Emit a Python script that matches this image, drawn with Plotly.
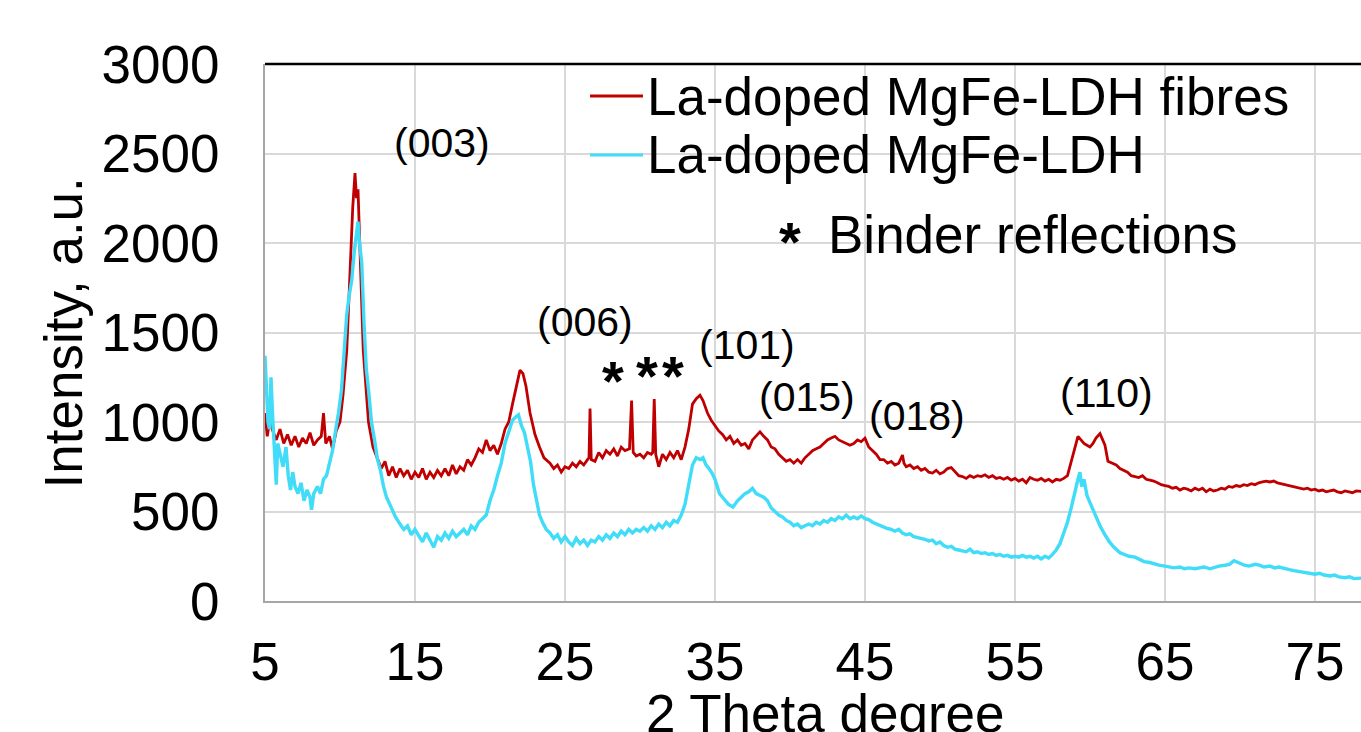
import plotly.graph_objects as go

# ---------------- data ----------------
fibres_theta = [5.0, 5.15, 5.3, 5.5, 5.75, 6.0, 6.25, 6.5, 6.75, 7.0, 7.25, 7.5, 7.75, 8.0, 8.25, 8.5, 8.75, 8.9, 9.05, 9.3,
                9.5, 9.75, 10.0, 10.2, 10.45, 10.7, 10.85, 11.0, 11.1, 11.2, 11.33, 11.55, 11.7, 11.9, 12.2, 12.5, 12.75, 13.0, 13.25, 13.5,
                13.75, 14.0, 14.25, 14.5, 14.75, 15.0, 15.25, 15.5, 15.75, 16.0, 16.25, 16.5, 16.75, 17.0, 17.25, 17.5, 17.75, 18.0, 18.25, 18.5,
                18.75, 19.0, 19.25, 19.5, 19.75, 20.0, 20.25, 20.5, 20.75, 21.0, 21.25, 21.5, 21.75, 22.0, 22.2, 22.4, 22.67, 23.0, 23.3, 23.6,
                24.0, 24.25, 24.5, 24.75, 25.0, 25.25, 25.5, 25.75, 26.0, 26.25, 26.5, 26.6, 26.67, 26.75, 27.0, 27.25, 27.5, 27.75, 28.0, 28.25,
                28.5, 28.75, 29.0, 29.3, 29.44, 29.55, 29.75, 30.0, 30.25, 30.5, 30.75, 30.85, 30.95, 31.05, 31.25, 31.5, 31.75, 32.0, 32.25, 32.5,
                32.75, 33.0, 33.25, 33.5, 33.75, 34.0, 34.2, 34.5, 34.75, 35.0, 35.25, 35.5, 35.75, 36.0, 36.25, 36.5, 36.75, 37.0, 37.25, 37.5,
                37.75, 38.0, 38.25, 38.5, 38.75, 39.0, 39.25, 39.5, 39.75, 40.0, 40.25, 40.5, 40.75, 41.0, 41.25, 41.5, 41.75, 42.0, 42.25, 42.5,
                42.75, 43.0, 43.25, 43.5, 43.75, 44.0, 44.25, 44.5, 44.75, 45.0, 45.25, 45.5, 45.75, 46.0, 46.25, 46.5, 46.75, 47.0, 47.25, 47.5,
                47.6, 47.75, 48.0, 48.25, 48.5, 48.75, 49.0, 49.25, 49.5, 49.75, 50.0, 50.25, 50.5, 50.75, 51.0, 51.25, 51.5, 51.75, 52.0, 52.25,
                52.5, 52.75, 53.0, 53.25, 53.5, 53.75, 54.0, 54.25, 54.5, 54.75, 55.0, 55.25, 55.5, 55.75, 56.0, 56.25, 56.5, 56.75, 57.0, 57.25,
                57.5, 57.75, 58.0, 58.25, 58.5, 58.75, 59.0, 59.2, 59.4, 59.6, 59.8, 60.0, 60.2, 60.4, 60.67, 60.85, 61.0, 61.2, 61.5, 61.75,
                62.0, 62.25, 62.5, 62.75, 63.0, 63.25, 63.5, 63.75, 64.0, 64.25, 64.5, 64.75, 65.0, 65.25, 65.5, 65.75, 66.0, 66.25, 66.5, 66.75,
                67.0, 67.25, 67.5, 67.75, 68.0, 68.25, 68.5, 68.75, 69.0, 69.25, 69.5, 69.75, 70.0, 70.25, 70.5, 70.75, 71.0, 71.25, 71.5, 71.75,
                72.0, 72.25, 72.5, 72.75, 73.0, 73.25, 73.5, 73.75, 74.0, 74.25, 74.5, 74.75, 75.0, 75.25, 75.5, 75.75, 76.0, 76.25, 76.5, 76.75,
                77.0, 77.25, 77.5, 77.75, 78.0, 78.1]
fibres_int = [1050, 920, 1000, 950, 900, 960, 880, 930, 870, 920, 860, 910, 880, 940, 870, 900, 920, 1050, 880, 920,
              850, 950, 1000, 1150, 1400, 1900, 2200, 2390, 2250, 2300, 2000, 1400, 1230, 1000, 860, 790, 740, 780, 700, 750,
              690, 740, 700, 730, 680, 720, 690, 740, 680, 720, 690, 730, 700, 740, 700, 760, 710, 750, 730, 790,
              760, 800, 850, 830, 900, 840, 870, 820, 880, 960, 1000, 1100, 1200, 1290, 1270, 1200, 1050, 930, 860, 800,
              770, 740, 760, 720, 750, 740, 770, 750, 780, 760, 790, 800, 1075, 790, 780, 830, 800, 840, 820, 850,
              810, 860, 840, 850, 1120, 830, 810, 820, 800, 830, 820, 830, 1128, 820, 750, 820, 790, 830, 800, 840,
              790, 860, 960, 1100, 1130, 1150, 1120, 1050, 1010, 980, 950, 930, 900, 920, 880, 900, 870, 880, 850, 900,
              920, 945, 920, 900, 860, 850, 820, 800, 780, 790, 770, 790, 770, 800, 820, 840, 850, 860, 880, 900,
              910, 920, 900, 890, 880, 870, 880, 900, 890, 910, 860, 840, 820, 790, 790, 770, 780, 760, 770, 815,
              770, 750, 760, 740, 750, 730, 740, 720, 715, 730, 710, 720, 740, 745, 720, 700, 695, 685, 700, 690,
              700, 695, 705, 690, 700, 685, 690, 680, 690, 675, 685, 670, 680, 660, 690, 680, 675, 685, 670, 680,
              665, 680, 675, 685, 700, 780, 860, 920, 900, 880, 870, 860, 880, 910, 935, 900, 870, 780, 770, 760,
              740, 730, 720, 700, 695, 690, 700, 680, 675, 670, 660, 650, 645, 640, 630, 635, 620, 630, 625, 615,
              630, 620, 630, 610, 625, 615, 620, 630, 625, 640, 635, 645, 640, 650, 645, 655, 650, 660, 665, 670,
              665, 670, 660, 655, 650, 645, 640, 635, 630, 625, 630, 620, 625, 615, 620, 610, 615, 620, 610, 605,
              615, 610, 605, 615, 610, 612]

ldh_theta = [5.0, 5.1, 5.2, 5.3, 5.4, 5.5, 5.6, 5.75, 5.85, 6.0, 6.2, 6.4, 6.55, 6.7, 6.85, 7.0, 7.2, 7.4, 7.6, 7.8,
             8.0, 8.1, 8.25, 8.5, 8.7, 8.9, 9.1, 9.3, 9.5, 9.7, 9.9, 10.1, 10.3, 10.45, 10.6, 10.78, 10.95, 11.1, 11.2, 11.3,
             11.45, 11.6, 11.75, 11.9, 12.1, 12.3, 12.5, 12.7, 12.9, 13.1, 13.4, 13.7, 14.0, 14.25, 14.5, 14.75, 15.0, 15.25, 15.5, 15.75,
             16.0, 16.25, 16.5, 16.75, 17.0, 17.25, 17.5, 17.75, 18.0, 18.25, 18.5, 18.75, 19.0, 19.25, 19.5, 19.75, 20.0, 20.25, 20.5, 20.75,
             21.0, 21.25, 21.5, 21.75, 21.9, 22.1, 22.3, 22.5, 22.7, 22.9, 23.1, 23.3, 23.5, 23.75, 24.0, 24.25, 24.5, 24.75, 25.0, 25.25,
             25.5, 25.75, 26.0, 26.25, 26.5, 26.75, 27.0, 27.25, 27.5, 27.75, 28.0, 28.25, 28.5, 28.75, 29.0, 29.25, 29.5, 29.75, 30.0, 30.25,
             30.5, 30.75, 31.0, 31.25, 31.5, 31.75, 32.0, 32.25, 32.5, 32.75, 33.0, 33.25, 33.5, 33.75, 34.0, 34.2, 34.4, 34.6, 34.8, 35.0,
             35.3, 35.6, 35.9, 36.2, 36.5, 36.75, 37.0, 37.25, 37.5, 37.75, 38.0, 38.25, 38.5, 38.75, 39.0, 39.25, 39.5, 39.75, 40.0, 40.25,
             40.5, 40.75, 41.0, 41.25, 41.5, 41.75, 42.0, 42.25, 42.5, 42.75, 43.0, 43.25, 43.5, 43.75, 44.0, 44.25, 44.5, 44.75, 45.0, 45.25,
             45.5, 45.75, 46.0, 46.25, 46.5, 46.75, 47.0, 47.25, 47.5, 47.75, 48.0, 48.25, 48.5, 48.75, 49.0, 49.25, 49.5, 49.75, 50.0, 50.25,
             50.5, 50.75, 51.0, 51.25, 51.5, 51.75, 52.0, 52.25, 52.5, 52.75, 53.0, 53.25, 53.5, 53.75, 54.0, 54.25, 54.5, 54.75, 55.0, 55.25,
             55.5, 55.75, 56.0, 56.25, 56.5, 56.75, 57.0, 57.25, 57.5, 57.75, 58.0, 58.25, 58.5, 58.75, 59.0, 59.2, 59.33, 59.45, 59.6, 59.8,
             60.0, 60.2, 60.4, 60.67, 61.0, 61.3, 61.6, 62.0, 62.3, 62.6, 63.0, 63.3, 63.6, 64.0, 64.3, 64.6, 65.0, 65.3, 65.6, 66.0,
             66.3, 66.6, 67.0, 67.3, 67.6, 68.0, 68.3, 68.6, 69.0, 69.3, 69.6, 70.0, 70.3, 70.6, 71.0, 71.3, 71.6, 72.0, 72.3, 72.6,
             73.0, 73.3, 73.6, 74.0, 74.3, 74.6, 75.0, 75.3, 75.6, 76.0, 76.3, 76.6, 77.0, 77.3, 77.6, 78.1]
ldh_int = [1370, 1200, 1000, 960, 1250, 1050, 900, 650, 880, 820, 750, 860, 700, 620, 720, 640, 600, 660, 560, 620,
           580, 510, 600, 640, 600, 680, 700, 770, 840, 950, 1050, 1180, 1400, 1600, 1700, 1790, 1950, 2080, 2120, 2000,
           1890, 1550, 1300, 1180, 1000, 900, 790, 730, 640, 580, 520, 470, 430, 400, 420, 370, 400, 360, 330, 380,
           340, 300, 360, 340, 380, 350, 390, 360, 380, 400, 370, 420, 400, 440, 460, 480, 560, 620, 700, 770,
           880, 950, 1010, 1030, 1040, 980, 940, 860, 780, 650, 560, 480, 440, 400, 380, 350, 370, 330, 360, 330,
           310, 350, 320, 340, 310, 340, 330, 360, 340, 370, 350, 380, 360, 390, 370, 400, 380, 400, 390, 410,
           390, 420, 400, 430, 410, 440, 420, 450, 440, 480, 540, 660, 760, 800, 790, 800, 760, 740, 715, 680,
           600, 570, 540, 525, 560, 580, 600, 610, 630, 600, 590, 580, 560, 520, 500, 480, 470, 450, 440, 420,
           430, 410, 420, 430, 420, 440, 430, 450, 440, 460, 450, 470, 460, 480, 460, 470, 460, 475, 460, 455,
           440, 430, 420, 410, 405, 400, 390, 400, 380, 370, 375, 360, 355, 350, 345, 335, 340, 320, 330, 310,
           300, 305, 290, 285, 280, 275, 290, 270, 275, 265, 270, 260, 265, 255, 260, 250, 255, 245, 250, 245,
           255, 245, 250, 240, 250, 235, 250, 240, 260, 285, 320, 380, 440, 520, 620, 680, 720, 640, 680, 590,
           550, 510, 470, 420, 370, 330, 300, 270, 260, 250, 245, 230, 220, 215, 205, 200, 195, 190, 185, 190,
           180, 185, 180, 185, 190, 180, 190, 195, 200, 205, 225, 210, 200, 195, 205, 200, 190, 195, 185, 190,
           180, 175, 170, 165, 160, 155, 150, 155, 145, 140, 145, 135, 130, 135, 125, 128]

series_names = ["La-doped MgFe-LDH fibres", "La-doped MgFe-LDH"]
series_colors = ["#C00000", "#40DCF8"]

x_ticks = [5, 15, 25, 35, 45, 55, 65, 75]
y_ticks = [0, 500, 1000, 1500, 2000, 2500, 3000]

# reflection labels: (text, theta, intensity)
peak_labels = ["(003)", "(006)", "(101)", "(015)", "(018)", "(110)"]
peak_label_theta = [16.8, 26.33, 37.13, 41.13, 48.47, 61.07]
peak_label_int = [2559, 1559, 1430, 1140, 1034, 1162]

binder_theta = [28.2, 30.47, 32.2]
binder_int = [1230, 1262, 1262]

FONT = "Liberation Sans, Arial, sans-serif"

fig = go.Figure()
fig.add_trace(go.Scatter(x=fibres_theta, y=fibres_int, mode="lines", name=series_names[0],
                         line=dict(color=series_colors[0], width=2.8), showlegend=False))
fig.add_trace(go.Scatter(x=ldh_theta, y=ldh_int, mode="lines", name=series_names[1],
                         line=dict(color=series_colors[1], width=3.4), showlegend=False))

ann = []
for t, xv, yv in zip(peak_labels, peak_label_theta, peak_label_int):
    ann.append(dict(x=xv, y=yv, xref="x", yref="y", text=t, showarrow=False,
                    font=dict(size=41, color="black", family=FONT), xanchor="center", yanchor="middle"))
for xv, yv in zip(binder_theta, binder_int):
    ann.append(dict(x=xv, y=yv, xref="x", yref="y", text="<b>*</b>", showarrow=False,
                    font=dict(size=56, color="black", family=FONT), xanchor="center", yanchor="middle"))

# manual legend
legend_y = [2821, 2492]
for name, col, yv in zip(series_names, series_colors, legend_y):
    ann.append(dict(x=30.33, y=yv, xref="x", yref="y", text=name, showarrow=False,
                    font=dict(size=53, color="black", family=FONT), xanchor="left", yanchor="middle"))
ann.append(dict(x=40.0, y=2010, xref="x", yref="y", text="<b>*</b>", showarrow=False,
                font=dict(size=56, color="black", family=FONT), xanchor="center", yanchor="middle"))
ann.append(dict(x=42.4, y=2047, xref="x", yref="y", text="Binder reflections", showarrow=False,
                font=dict(size=53, color="black", family=FONT), xanchor="left", yanchor="middle"))

# axis titles
ann.append(dict(x=42.4, y=0, xref="x", yref="paper", text="2 Theta degree", showarrow=False,
                font=dict(size=53, color="black", family=FONT), xanchor="center", yanchor="top", yshift=-81))
ann.append(dict(x=-0.1834, y=0.5, xref="paper", yref="paper", text="Intensity, a.u.", showarrow=False,
                textangle=-90, font=dict(size=53, color="black", family=FONT), xanchor="center", yanchor="middle"))

shapes = []
for col, yv in zip(series_colors, legend_y):
    shapes.append(dict(type="line", xref="x", yref="y", x0=26.67, x1=30.2, y0=yv, y1=yv,
                       line=dict(color=col, width=3)))
shapes.append(dict(type="line", xref="paper", yref="paper", x0=0, x1=1, y0=1, y1=1,
                   line=dict(color="black", width=2.5)))

fig.update_layout(
    width=1361, height=732,
    margin=dict(l=265, r=0, t=64, b=131),
    paper_bgcolor="white", plot_bgcolor="white",
    font=dict(family=FONT, color="black", size=53),
    annotations=ann, shapes=shapes,
    showlegend=False,
)
fig.update_xaxes(range=[5, 78.07], tickvals=x_ticks, ticktext=[str(v) for v in x_ticks],
                 showgrid=True, gridcolor="#d9d9d9", gridwidth=2,
                 showline=True, linecolor="#a6a6a6", linewidth=2,
                 ticks="outside", ticklen=13, tickcolor="rgba(0,0,0,0)",
                 tickfont=dict(size=53, family=FONT, color="black"), zeroline=False)
fig.update_yaxes(range=[0, 3000], tickvals=y_ticks, ticktext=[str(v) for v in y_ticks],
                 showgrid=True, gridcolor="#d9d9d9", gridwidth=2,
                 showline=True, linecolor="#a6a6a6", linewidth=2,
                 ticks="outside", ticklen=33, tickcolor="rgba(0,0,0,0)",
                 tickfont=dict(size=53, family=FONT, color="black"), zeroline=False)

fig.write_html("out.html")
